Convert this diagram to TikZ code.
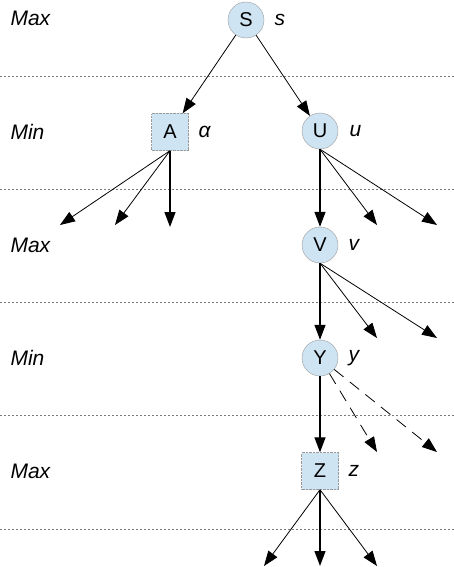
\documentclass[tikz,border=0pt]{standalone}
\usepackage{fontspec}
\setmainfont{Liberation Sans}
\usetikzlibrary{arrows.meta}
\definecolor{nodefill}{HTML}{CFE4F3}
\definecolor{nodeline}{HTML}{9A9A9A}
\definecolor{sepline}{HTML}{7A7A7A}
\begin{document}
\begin{tikzpicture}[x=1pt,y=-1pt,
  maxnode/.style={circle,draw=nodeline,fill=nodefill,minimum size=36pt,inner sep=0pt,font=\fontsize{20}{22}\selectfont},
  minnode/.style={rectangle,draw=nodeline,densely dotted,fill=nodefill,minimum size=37pt,inner sep=0pt,font=\fontsize{20}{22}\selectfont},
  lvl/.style={anchor=west,font=\fontsize{21}{23}\selectfont\itshape},
  val/.style={anchor=west,font=\fontsize{21}{23}\selectfont\itshape},
  sep/.style={draw=sepline,line width=0.6pt,dash pattern=on 2pt off 2pt},
  edge/.style={line width=0.8pt,-{Triangle[length=15pt,width=11pt]}},
  vedge/.style={line width=1.3pt,-{Triangle[length=15pt,width=11pt]}},
  dedge/.style={line width=0.8pt,dash pattern=on 12pt off 8pt,-{Triangle[length=15pt,width=11pt]}}
]
\useasboundingbox (0,0) rectangle (454,567);
% separators
\foreach \yy in {76,189,302,415,529} \draw[sep] (0,\yy) -- (454,\yy);
% level labels
\node[lvl] (l1) at (7,18) {Max};
\node[lvl] (l2) at (7,132) {Min};
\node[lvl] (l3) at (7,245) {Max};
\node[lvl] (l4) at (7,358) {Min};
\node[lvl] (l5) at (7,471) {Max};
% nodes
\node[maxnode] (S) at (246,20) {S};
\node[minnode] (A) at (170,132) {A};
\node[maxnode] (U) at (320,131) {U};
\node[maxnode] (V) at (320,245) {V};
\node[maxnode] (Y) at (320,358) {Y};
\node[minnode] (Z) at (320,471) {Z};
% value labels
\node[val] (vs) at (271,20) {s};
\node[val] (va) at (195,132) {α};
\node[val] (vu) at (346,131) {u};
\node[val] (vv) at (345,245) {v};
\node[val] (vy) at (345,358) {y};
\node[val] (vz) at (345,471) {z};
% leaf end points
\coordinate (a1) at (60,225);
\coordinate (a2) at (115,225);
\coordinate (a3) at (170,227);
\coordinate (u2) at (377,225);
\coordinate (u3) at (437,225);
\coordinate (v2) at (377,338);
\coordinate (v3) at (437,338);
\coordinate (y2) at (377,452);
\coordinate (y3) at (437,452);
\coordinate (z1) at (264,566);
\coordinate (z2) at (320,566);
\coordinate (z3) at (377,566);
% edges
\draw[edge] (S) -- (A);
\draw[edge] (S) -- (U);
\draw[edge] (A.south) -- (a1);
\draw[edge] (A.south) -- (a2);
\draw[vedge] (A.south) -- (a3);
\draw[vedge] (U) -- (V);
\draw[edge] (U.south) -- (u2);
\draw[edge] (U.south) -- (u3);
\draw[vedge] (V) -- (Y);
\draw[edge] (V.south) -- (v2);
\draw[edge] (V.south) -- (v3);
\draw[vedge] (Y) -- (Z);
\draw[dedge] (Y) -- (y2);
\draw[dedge] (Y) -- (y3);
\draw[edge] (Z.south) -- (z1);
\draw[vedge] (Z.south) -- (z2);
\draw[edge] (Z.south) -- (z3);
\end{tikzpicture}
\end{document}
